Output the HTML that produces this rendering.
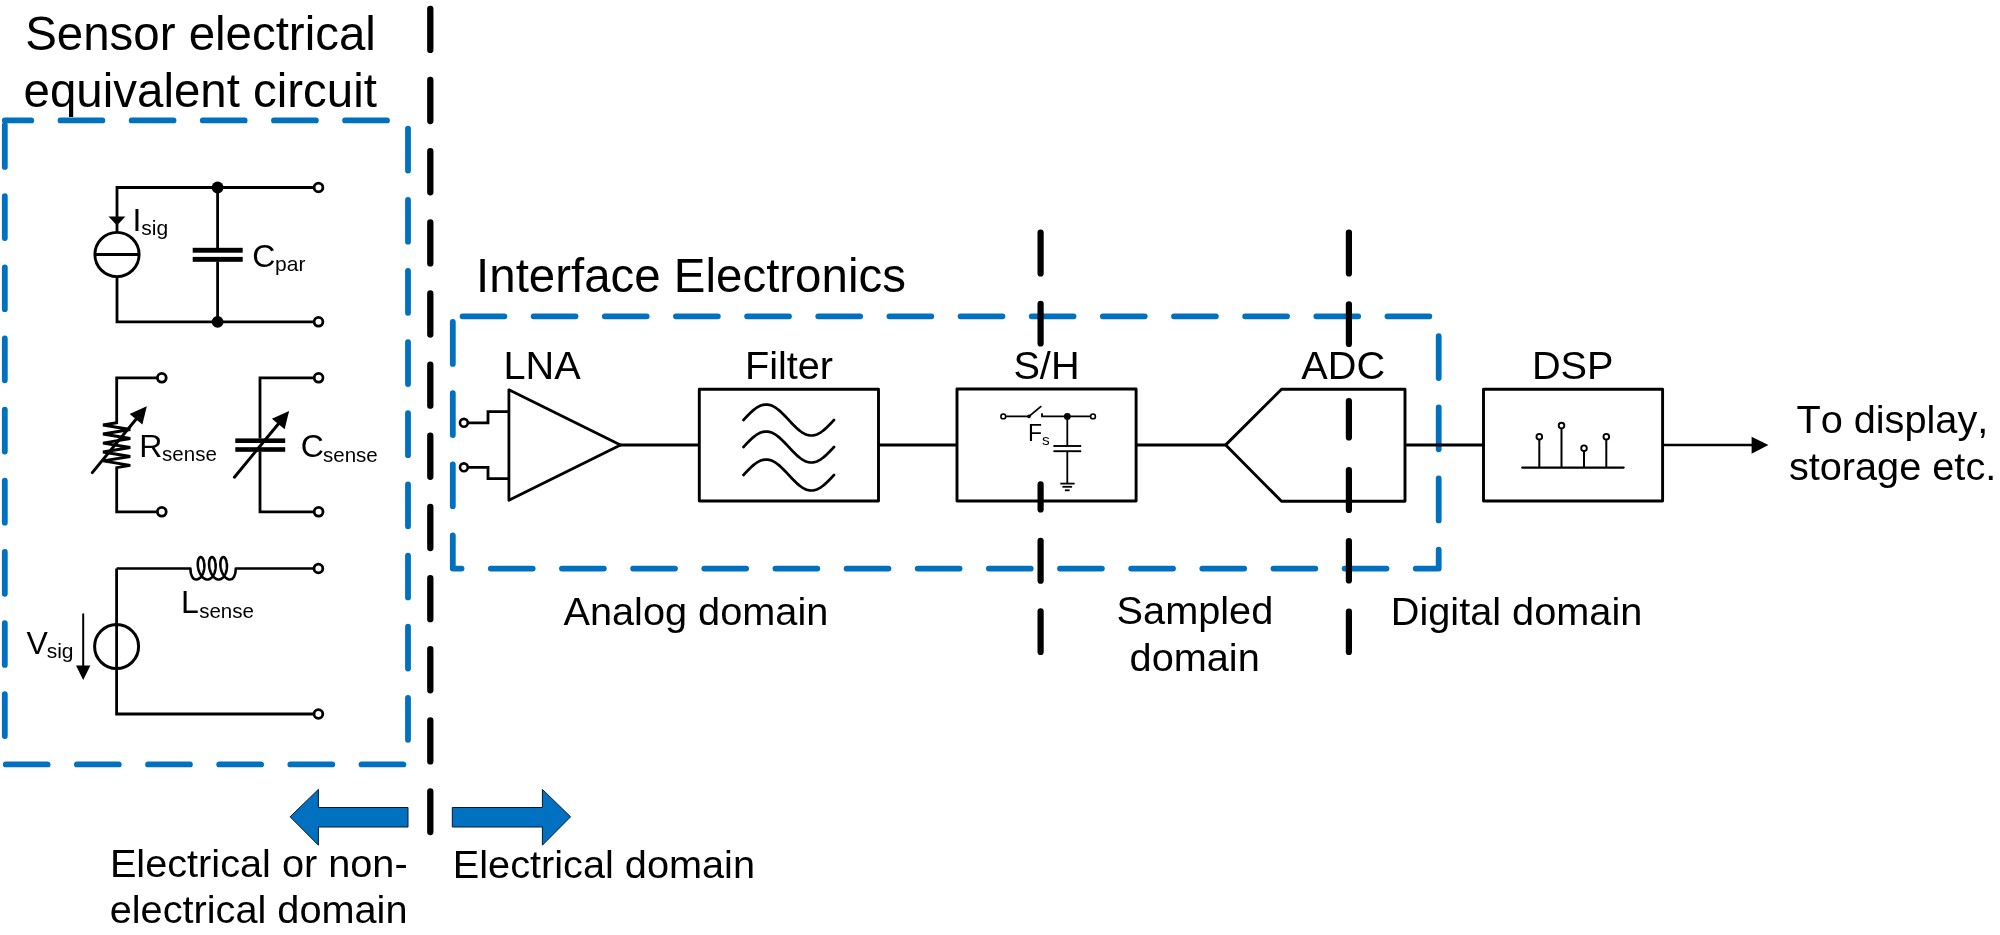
<!DOCTYPE html>
<html><head><meta charset="utf-8"><style>
html,body{margin:0;padding:0;background:#fff;}
svg{display:block;}
</style></head><body>
<svg width="2000" height="935" viewBox="0 0 2000 935">
<rect width="2000" height="935" fill="#fff"/>
<rect x="4.8" y="120.4" width="403.2" height="644" fill="none" stroke="#0070C0" stroke-width="5.8" stroke-dasharray="41.9 29.25" stroke-dashoffset="15.45" stroke-linejoin="round" stroke-linecap="round"/>
<rect x="452.8" y="316.3" width="985.9" height="252.3" fill="none" stroke="#0070C0" stroke-width="5.8" stroke-dasharray="41.9 29.25" stroke-dashoffset="61.45" stroke-linejoin="round" stroke-linecap="round"/>
<line x1="430.3" y1="8.85" x2="430.3" y2="832" stroke="#000" stroke-width="6.3" stroke-dasharray="41.1 30.05" stroke-linecap="round"/>
<path d="M318.5 187.5 H117 V232.7 M117 276.3 V321.8 H318.5" fill="none" stroke="#000" stroke-width="2.8"/>
<circle cx="117" cy="254.5" r="22.1" fill="none" stroke="#000" stroke-width="2.9"/>
<line x1="95.2" y1="254.4" x2="138.8" y2="254.4" stroke="#000" stroke-width="3"/>
<polygon points="108.5,216.6 125.4,216.6 117,225.5" fill="#000"/>
<path d="M217.6 187.5 V248 M217.6 261.5 V321.8" fill="none" stroke="#000" stroke-width="2.8"/>
<rect x="192.7" y="247.8" width="50" height="4.9" fill="#000"/>
<rect x="192.7" y="256.9" width="50" height="4.9" fill="#000"/>
<circle cx="217.6" cy="187.5" r="5.9" fill="#000"/><circle cx="217.6" cy="321.8" r="5.9" fill="#000"/>
<circle cx="318.5" cy="187.5" r="4.4" fill="#fff" stroke="#000" stroke-width="2.8"/>
<circle cx="318.5" cy="321.8" r="4.4" fill="#fff" stroke="#000" stroke-width="2.8"/>
<path d="M161.8 377.8 L116.7 377.8 L116.7 422.7 L103 425 L130.3 429.5 L103 434 L130.3 438.5 L103 443.2 L130.3 447.5 L103 452 L130.3 456.5 L103 460.9 L130.3 465.4 L116.7 467.6 L116.7 511.8 L161.8 511.8" fill="none" stroke="#000" stroke-width="2.8" stroke-linejoin="miter"/>
<line x1="92.3" y1="472.6" x2="137.28" y2="417.79" stroke="#000" stroke-width="3" stroke-linecap="round"/>
<polygon points="146.8,406.2 142.39,424.57 129.64,414.11" fill="#000"/>
<circle cx="161.8" cy="377.8" r="4.4" fill="#fff" stroke="#000" stroke-width="2.8"/>
<circle cx="161.8" cy="511.8" r="4.4" fill="#fff" stroke="#000" stroke-width="2.8"/>
<path d="M318.6 377.8 H260 V438.6 M260 451.5 V511.8 H318.6" fill="none" stroke="#000" stroke-width="2.8"/>
<rect x="235.3" y="438.4" width="49.9" height="4.6" fill="#000"/>
<rect x="235.3" y="447.2" width="49.9" height="4.6" fill="#000"/>
<line x1="234.4" y1="477.2" x2="279.55" y2="422.47" stroke="#000" stroke-width="3" stroke-linecap="round"/>
<polygon points="289.1,410.9 284.64,429.26 271.92,418.76" fill="#000"/>
<circle cx="318.6" cy="377.8" r="4.4" fill="#fff" stroke="#000" stroke-width="2.8"/>
<circle cx="318.6" cy="511.8" r="4.4" fill="#fff" stroke="#000" stroke-width="2.8"/>
<path d="M116.6 568.5 L190.4 568.5 C190.4 575.5 192.90 579.50 196.10 579.50 L196.34 579.49 L196.58 579.48 L196.81 579.45 L197.05 579.41 L197.28 579.36 L197.52 579.30 L197.75 579.23 L197.98 579.15 L198.21 579.06 L198.43 578.95 L198.66 578.84 L198.88 578.71 L199.09 578.58 L199.31 578.43 L199.52 578.28 L199.73 578.11 L199.94 577.94 L200.14 577.76 L200.34 577.56 L200.54 577.36 L200.73 577.15 L200.92 576.93 L201.10 576.70 L201.28 576.46 L201.46 576.22 L201.63 575.97 L201.80 575.71 L201.96 575.44 L202.12 575.16 L202.27 574.88 L202.42 574.60 L202.56 574.30 L202.70 574.00 L202.83 573.70 L202.96 573.38 L203.08 573.07 L203.20 572.75 L203.31 572.42 L203.41 572.09 L203.51 571.76 L203.61 571.42 L203.70 571.09 L203.78 570.74 L203.86 570.40 L203.93 570.05 L203.99 569.70 L204.05 569.35 L204.11 569.00 L204.16 568.65 L204.20 568.30 L204.24 567.95 L204.27 567.60 L204.29 567.25 L204.31 566.90 L204.33 566.55 L204.34 566.20 L204.34 565.86 L204.34 565.51 L204.33 565.18 L204.32 564.84 L204.30 564.51 L204.28 564.18 L204.25 563.85 L204.22 563.53 L204.18 563.22 L204.13 562.90 L204.09 562.60 L204.03 562.30 L203.98 562.00 L203.91 561.72 L203.85 561.44 L203.78 561.16 L203.70 560.89 L203.62 560.63 L203.54 560.38 L203.46 560.14 L203.37 559.90 L203.27 559.67 L203.18 559.45 L203.08 559.24 L202.98 559.04 L202.87 558.84 L202.77 558.66 L202.66 558.49 L202.54 558.32 L202.43 558.17 L202.31 558.02 L202.19 557.89 L202.07 557.76 L201.95 557.65 L201.83 557.54 L201.71 557.45 L201.58 557.37 L201.46 557.30 L201.33 557.24 L201.21 557.19 L201.08 557.15 L200.95 557.12 L200.83 557.11 L200.70 557.10 L200.57 557.11 L200.45 557.12 L200.33 557.15 L200.20 557.19 L200.08 557.24 L199.96 557.30 L199.84 557.37 L199.73 557.45 L199.61 557.54 L199.50 557.65 L199.39 557.76 L199.28 557.89 L199.17 558.02 L199.07 558.17 L198.97 558.32 L198.87 558.49 L198.78 558.66 L198.69 558.84 L198.60 559.04 L198.52 559.24 L198.44 559.45 L198.37 559.67 L198.30 559.90 L198.23 560.14 L198.17 560.38 L198.11 560.63 L198.05 560.89 L198.00 561.16 L197.96 561.44 L197.92 561.72 L197.88 562.00 L197.85 562.30 L197.83 562.60 L197.81 562.90 L197.80 563.22 L197.79 563.53 L197.78 563.85 L197.79 564.18 L197.79 564.51 L197.81 564.84 L197.83 565.18 L197.85 565.51 L197.88 565.86 L197.92 566.20 L197.96 566.55 L198.00 566.90 L198.06 567.25 L198.12 567.60 L198.18 567.95 L198.25 568.30 L198.33 568.65 L198.41 569.00 L198.49 569.35 L198.59 569.70 L198.69 570.05 L198.79 570.40 L198.90 570.74 L199.01 571.09 L199.14 571.42 L199.26 571.76 L199.39 572.09 L199.53 572.42 L199.67 572.75 L199.82 573.07 L199.97 573.38 L200.12 573.70 L200.29 574.00 L200.45 574.30 L200.62 574.60 L200.80 574.88 L200.98 575.16 L201.16 575.44 L201.35 575.71 L201.54 575.97 L201.73 576.22 L201.93 576.46 L202.13 576.70 L202.34 576.93 L202.55 577.15 L202.76 577.36 L202.98 577.56 L203.19 577.76 L203.41 577.94 L203.64 578.11 L203.86 578.28 L204.09 578.43 L204.32 578.58 L204.55 578.71 L204.78 578.84 L205.02 578.95 L205.25 579.06 L205.49 579.15 L205.73 579.23 L205.96 579.30 L206.20 579.36 L206.44 579.41 L206.68 579.45 L206.92 579.48 L207.16 579.49 L207.40 579.50 L207.64 579.49 L207.88 579.48 L208.11 579.45 L208.35 579.41 L208.58 579.36 L208.82 579.30 L209.05 579.23 L209.28 579.15 L209.51 579.06 L209.73 578.95 L209.96 578.84 L210.18 578.71 L210.39 578.58 L210.61 578.43 L210.82 578.28 L211.03 578.11 L211.24 577.94 L211.44 577.76 L211.64 577.56 L211.84 577.36 L212.03 577.15 L212.22 576.93 L212.40 576.70 L212.58 576.46 L212.76 576.22 L212.93 575.97 L213.10 575.71 L213.26 575.44 L213.42 575.16 L213.57 574.88 L213.72 574.60 L213.86 574.30 L214.00 574.00 L214.13 573.70 L214.26 573.38 L214.38 573.07 L214.50 572.75 L214.61 572.42 L214.71 572.09 L214.81 571.76 L214.91 571.42 L215.00 571.09 L215.08 570.74 L215.16 570.40 L215.23 570.05 L215.29 569.70 L215.35 569.35 L215.41 569.00 L215.46 568.65 L215.50 568.30 L215.54 567.95 L215.57 567.60 L215.59 567.25 L215.61 566.90 L215.63 566.55 L215.64 566.20 L215.64 565.86 L215.64 565.51 L215.63 565.18 L215.62 564.84 L215.60 564.51 L215.58 564.18 L215.55 563.85 L215.52 563.53 L215.48 563.22 L215.43 562.90 L215.39 562.60 L215.33 562.30 L215.28 562.00 L215.21 561.72 L215.15 561.44 L215.08 561.16 L215.00 560.89 L214.92 560.63 L214.84 560.38 L214.76 560.14 L214.67 559.90 L214.57 559.67 L214.48 559.45 L214.38 559.24 L214.28 559.04 L214.17 558.84 L214.07 558.66 L213.96 558.49 L213.84 558.32 L213.73 558.17 L213.61 558.02 L213.49 557.89 L213.37 557.76 L213.25 557.65 L213.13 557.54 L213.01 557.45 L212.88 557.37 L212.76 557.30 L212.63 557.24 L212.51 557.19 L212.38 557.15 L212.25 557.12 L212.13 557.11 L212.00 557.10 L211.87 557.11 L211.75 557.12 L211.63 557.15 L211.50 557.19 L211.38 557.24 L211.26 557.30 L211.14 557.37 L211.03 557.45 L210.91 557.54 L210.80 557.65 L210.69 557.76 L210.58 557.89 L210.47 558.02 L210.37 558.17 L210.27 558.32 L210.17 558.49 L210.08 558.66 L209.99 558.84 L209.90 559.04 L209.82 559.24 L209.74 559.45 L209.67 559.67 L209.60 559.90 L209.53 560.14 L209.47 560.38 L209.41 560.63 L209.35 560.89 L209.30 561.16 L209.26 561.44 L209.22 561.72 L209.18 562.00 L209.15 562.30 L209.13 562.60 L209.11 562.90 L209.10 563.22 L209.09 563.53 L209.08 563.85 L209.09 564.18 L209.09 564.51 L209.11 564.84 L209.13 565.18 L209.15 565.51 L209.18 565.86 L209.22 566.20 L209.26 566.55 L209.30 566.90 L209.36 567.25 L209.42 567.60 L209.48 567.95 L209.55 568.30 L209.63 568.65 L209.71 569.00 L209.79 569.35 L209.89 569.70 L209.99 570.05 L210.09 570.40 L210.20 570.74 L210.31 571.09 L210.44 571.42 L210.56 571.76 L210.69 572.09 L210.83 572.42 L210.97 572.75 L211.12 573.07 L211.27 573.38 L211.42 573.70 L211.59 574.00 L211.75 574.30 L211.92 574.60 L212.10 574.88 L212.28 575.16 L212.46 575.44 L212.65 575.71 L212.84 575.97 L213.03 576.22 L213.23 576.46 L213.43 576.70 L213.64 576.93 L213.85 577.15 L214.06 577.36 L214.28 577.56 L214.49 577.76 L214.71 577.94 L214.94 578.11 L215.16 578.28 L215.39 578.43 L215.62 578.58 L215.85 578.71 L216.08 578.84 L216.32 578.95 L216.55 579.06 L216.79 579.15 L217.03 579.23 L217.26 579.30 L217.50 579.36 L217.74 579.41 L217.98 579.45 L218.22 579.48 L218.46 579.49 L218.70 579.50 L218.94 579.49 L219.18 579.48 L219.41 579.45 L219.65 579.41 L219.88 579.36 L220.12 579.30 L220.35 579.23 L220.58 579.15 L220.81 579.06 L221.03 578.95 L221.26 578.84 L221.48 578.71 L221.69 578.58 L221.91 578.43 L222.12 578.28 L222.33 578.11 L222.54 577.94 L222.74 577.76 L222.94 577.56 L223.14 577.36 L223.33 577.15 L223.52 576.93 L223.70 576.70 L223.88 576.46 L224.06 576.22 L224.23 575.97 L224.40 575.71 L224.56 575.44 L224.72 575.16 L224.87 574.88 L225.02 574.60 L225.16 574.30 L225.30 574.00 L225.43 573.70 L225.56 573.38 L225.68 573.07 L225.80 572.75 L225.91 572.42 L226.01 572.09 L226.11 571.76 L226.21 571.42 L226.30 571.09 L226.38 570.74 L226.46 570.40 L226.53 570.05 L226.59 569.70 L226.65 569.35 L226.71 569.00 L226.76 568.65 L226.80 568.30 L226.84 567.95 L226.87 567.60 L226.89 567.25 L226.91 566.90 L226.93 566.55 L226.94 566.20 L226.94 565.86 L226.94 565.51 L226.93 565.18 L226.92 564.84 L226.90 564.51 L226.88 564.18 L226.85 563.85 L226.82 563.53 L226.78 563.22 L226.73 562.90 L226.69 562.60 L226.63 562.30 L226.58 562.00 L226.51 561.72 L226.45 561.44 L226.38 561.16 L226.30 560.89 L226.22 560.63 L226.14 560.38 L226.06 560.14 L225.97 559.90 L225.87 559.67 L225.78 559.45 L225.68 559.24 L225.58 559.04 L225.47 558.84 L225.37 558.66 L225.26 558.49 L225.14 558.32 L225.03 558.17 L224.91 558.02 L224.79 557.89 L224.67 557.76 L224.55 557.65 L224.43 557.54 L224.31 557.45 L224.18 557.37 L224.06 557.30 L223.93 557.24 L223.81 557.19 L223.68 557.15 L223.55 557.12 L223.43 557.11 L223.30 557.10 L223.17 557.11 L223.05 557.12 L222.93 557.15 L222.80 557.19 L222.68 557.24 L222.56 557.30 L222.44 557.37 L222.33 557.45 L222.21 557.54 L222.10 557.65 L221.99 557.76 L221.88 557.89 L221.77 558.02 L221.67 558.17 L221.57 558.32 L221.47 558.49 L221.38 558.66 L221.29 558.84 L221.20 559.04 L221.12 559.24 L221.04 559.45 L220.97 559.67 L220.90 559.90 L220.83 560.14 L220.77 560.38 L220.71 560.63 L220.65 560.89 L220.60 561.16 L220.56 561.44 L220.52 561.72 L220.48 562.00 L220.45 562.30 L220.43 562.60 L220.41 562.90 L220.40 563.22 L220.39 563.53 L220.38 563.85 L220.39 564.18 L220.39 564.51 L220.41 564.84 L220.43 565.18 L220.45 565.51 L220.48 565.86 L220.52 566.20 L220.56 566.55 L220.60 566.90 L220.66 567.25 L220.72 567.60 L220.78 567.95 L220.85 568.30 L220.93 568.65 L221.01 569.00 L221.09 569.35 L221.19 569.70 L221.29 570.05 L221.39 570.40 L221.50 570.74 L221.61 571.09 L221.74 571.42 L221.86 571.76 L221.99 572.09 L222.13 572.42 L222.27 572.75 L222.42 573.07 L222.57 573.38 L222.72 573.70 L222.89 574.00 L223.05 574.30 L223.22 574.60 L223.40 574.88 L223.58 575.16 L223.76 575.44 L223.95 575.71 L224.14 575.97 L224.33 576.22 L224.53 576.46 L224.73 576.70 L224.94 576.93 L225.15 577.15 L225.36 577.36 L225.58 577.56 L225.79 577.76 L226.01 577.94 L226.24 578.11 L226.46 578.28 L226.69 578.43 L226.92 578.58 L227.15 578.71 L227.38 578.84 L227.62 578.95 L227.85 579.06 L228.09 579.15 L228.33 579.23 L228.56 579.30 L228.80 579.36 L229.04 579.41 L229.28 579.45 L229.52 579.48 L229.76 579.49 L230.00 579.50 C233.20 579.50 235.8 575.5 235.8 568.5 L318.4 568.5" fill="none" stroke="#000" stroke-width="2.6" stroke-linejoin="round"/>
<path d="M116.6 568.5 V714 H318.4" fill="none" stroke="#000" stroke-width="2.8"/>
<circle cx="116.6" cy="646.6" r="22" fill="none" stroke="#000" stroke-width="3"/>
<line x1="83.2" y1="613.5" x2="83.2" y2="667" stroke="#000" stroke-width="2"/>
<polygon points="76,665.5 90.4,665.5 83.2,680" fill="#000"/>
<circle cx="318.4" cy="568.5" r="4.4" fill="#fff" stroke="#000" stroke-width="2.8"/>
<circle cx="318.4" cy="714" r="4.4" fill="#fff" stroke="#000" stroke-width="2.8"/>
<polygon points="508.9,389.8 620.5,445 508.9,500.2" fill="#fff" stroke="#000" stroke-width="2.8" stroke-linejoin="round"/>
<path d="M463.9 422.8 H488 V411.7 H508.8 M463.9 467.3 H488 V478.7 H508.8" fill="none" stroke="#000" stroke-width="2.8"/>
<circle cx="463.9" cy="422.8" r="3.9" fill="#fff" stroke="#000" stroke-width="2.6"/>
<circle cx="463.9" cy="467.3" r="3.9" fill="#fff" stroke="#000" stroke-width="2.6"/>
<line x1="619.5" y1="445" x2="699.3" y2="445" stroke="#000" stroke-width="2.8"/>
<rect x="699.3" y="389.3" width="179.2" height="111.7" fill="#fff" stroke="#000" stroke-width="2.9" stroke-linejoin="round"/>
<path d="M743.50 420.00 L745.01 418.38 L746.52 416.78 L748.02 415.21 L749.53 413.70 L751.04 412.25 L752.55 410.89 L754.06 409.63 L755.57 408.48 L757.08 407.46 L758.58 406.58 L760.09 405.84 L761.60 405.26 L763.11 404.84 L764.62 404.58 L766.12 404.50 L767.63 404.58 L769.14 404.84 L770.65 405.26 L772.16 405.84 L773.67 406.58 L775.17 407.46 L776.68 408.48 L778.19 409.63 L779.70 410.89 L781.21 412.25 L782.72 413.70 L784.23 415.21 L785.73 416.78 L787.24 418.38 L788.75 420.00 L790.26 421.62 L791.77 423.22 L793.27 424.79 L794.78 426.30 L796.29 427.75 L797.80 429.11 L799.31 430.37 L800.82 431.52 L802.33 432.54 L803.83 433.42 L805.34 434.16 L806.85 434.74 L808.36 435.16 L809.87 435.42 L811.38 435.50 L812.88 435.42 L814.39 435.16 L815.90 434.74 L817.41 434.16 L818.92 433.42 L820.42 432.54 L821.93 431.52 L823.44 430.37 L824.95 429.11 L826.46 427.75 L827.97 426.30 L829.48 424.79 L830.98 423.22 L832.49 421.62 L834.00 420.00" fill="none" stroke="#000" stroke-width="2.7" stroke-linecap="round"/>
<path d="M743.50 447.00 L745.01 445.38 L746.52 443.78 L748.02 442.21 L749.53 440.70 L751.04 439.25 L752.55 437.89 L754.06 436.63 L755.57 435.48 L757.08 434.46 L758.58 433.58 L760.09 432.84 L761.60 432.26 L763.11 431.84 L764.62 431.58 L766.12 431.50 L767.63 431.58 L769.14 431.84 L770.65 432.26 L772.16 432.84 L773.67 433.58 L775.17 434.46 L776.68 435.48 L778.19 436.63 L779.70 437.89 L781.21 439.25 L782.72 440.70 L784.23 442.21 L785.73 443.78 L787.24 445.38 L788.75 447.00 L790.26 448.62 L791.77 450.22 L793.27 451.79 L794.78 453.30 L796.29 454.75 L797.80 456.11 L799.31 457.37 L800.82 458.52 L802.33 459.54 L803.83 460.42 L805.34 461.16 L806.85 461.74 L808.36 462.16 L809.87 462.42 L811.38 462.50 L812.88 462.42 L814.39 462.16 L815.90 461.74 L817.41 461.16 L818.92 460.42 L820.42 459.54 L821.93 458.52 L823.44 457.37 L824.95 456.11 L826.46 454.75 L827.97 453.30 L829.48 451.79 L830.98 450.22 L832.49 448.62 L834.00 447.00" fill="none" stroke="#000" stroke-width="2.7" stroke-linecap="round"/>
<path d="M743.50 475.00 L745.01 473.38 L746.52 471.78 L748.02 470.21 L749.53 468.70 L751.04 467.25 L752.55 465.89 L754.06 464.63 L755.57 463.48 L757.08 462.46 L758.58 461.58 L760.09 460.84 L761.60 460.26 L763.11 459.84 L764.62 459.58 L766.12 459.50 L767.63 459.58 L769.14 459.84 L770.65 460.26 L772.16 460.84 L773.67 461.58 L775.17 462.46 L776.68 463.48 L778.19 464.63 L779.70 465.89 L781.21 467.25 L782.72 468.70 L784.23 470.21 L785.73 471.78 L787.24 473.38 L788.75 475.00 L790.26 476.62 L791.77 478.22 L793.27 479.79 L794.78 481.30 L796.29 482.75 L797.80 484.11 L799.31 485.37 L800.82 486.52 L802.33 487.54 L803.83 488.42 L805.34 489.16 L806.85 489.74 L808.36 490.16 L809.87 490.42 L811.38 490.50 L812.88 490.42 L814.39 490.16 L815.90 489.74 L817.41 489.16 L818.92 488.42 L820.42 487.54 L821.93 486.52 L823.44 485.37 L824.95 484.11 L826.46 482.75 L827.97 481.30 L829.48 479.79 L830.98 478.22 L832.49 476.62 L834.00 475.00" fill="none" stroke="#000" stroke-width="2.7" stroke-linecap="round"/>
<line x1="878.5" y1="445" x2="957" y2="445" stroke="#000" stroke-width="2.8"/>
<line x1="1040.6" y1="232.5" x2="1040.6" y2="273.4" stroke="#000" stroke-width="6.2" stroke-linecap="round"/>
<line x1="1040.6" y1="303.8" x2="1040.6" y2="343.5" stroke="#000" stroke-width="6.2" stroke-linecap="round"/>
<line x1="1348.9" y1="232.5" x2="1348.9" y2="273.4" stroke="#000" stroke-width="6.2" stroke-linecap="round"/>
<line x1="1348.9" y1="304.3" x2="1348.9" y2="343.9" stroke="#000" stroke-width="6.2" stroke-linecap="round"/>
<rect x="957" y="389" width="179.1" height="112" fill="#fff" stroke="#000" stroke-width="2.9" stroke-linejoin="round"/>
<path d="M1003.3 416.4 H1029 L1041.3 406.1 M1042 413.2 V416.4 H1093 M1067.3 416.4 V446 M1067.3 451.2 V483.6" fill="none" stroke="#000" stroke-width="1.8"/>
<line x1="1053.4" y1="446" x2="1081.2" y2="446" stroke="#000" stroke-width="1.9"/>
<line x1="1053.4" y1="451.2" x2="1081.2" y2="451.2" stroke="#000" stroke-width="1.9"/>
<line x1="1060.3" y1="483.6" x2="1074.6" y2="483.6" stroke="#000" stroke-width="1.8"/>
<line x1="1062.4" y1="486.8" x2="1072.1" y2="486.8" stroke="#000" stroke-width="1.8"/>
<line x1="1064.9" y1="490.3" x2="1069.6" y2="490.3" stroke="#000" stroke-width="1.8"/>
<circle cx="1029" cy="416.4" r="1.8" fill="#000"/><circle cx="1067.3" cy="416.4" r="3.4" fill="#000"/>
<circle cx="1003.3" cy="416.4" r="2.4" fill="#fff" stroke="#000" stroke-width="1.6"/>
<circle cx="1093" cy="416.4" r="2.4" fill="#fff" stroke="#000" stroke-width="1.6"/>
<line x1="1136.1" y1="445" x2="1225.7" y2="445" stroke="#000" stroke-width="2.8"/>
<polygon points="1225.7,444.9 1281.5,389.3 1405,389.3 1405,501.3 1281.5,501.3" fill="#fff" stroke="#000" stroke-width="2.9" stroke-linejoin="round"/>
<line x1="1405" y1="445" x2="1483.5" y2="445" stroke="#000" stroke-width="2.8"/>
<rect x="1483.5" y="389.3" width="179.1" height="111.7" fill="#fff" stroke="#000" stroke-width="2.9" stroke-linejoin="round"/>
<line x1="1522.2" y1="467.6" x2="1623.7" y2="467.6" stroke="#000" stroke-width="2.1" stroke-linecap="round"/>
<line x1="1539.3" y1="436.7" x2="1539.3" y2="467.6" stroke="#000" stroke-width="2.0"/>
<circle cx="1539.3" cy="436.7" r="2.8" fill="#fff" stroke="#000" stroke-width="1.9"/>
<line x1="1561.5" y1="425.6" x2="1561.5" y2="467.6" stroke="#000" stroke-width="2.0"/>
<circle cx="1561.5" cy="425.6" r="2.8" fill="#fff" stroke="#000" stroke-width="1.9"/>
<line x1="1584" y1="448.2" x2="1584" y2="467.6" stroke="#000" stroke-width="2.0"/>
<circle cx="1584" cy="448.2" r="2.8" fill="#fff" stroke="#000" stroke-width="1.9"/>
<line x1="1606.3" y1="436.7" x2="1606.3" y2="467.6" stroke="#000" stroke-width="2.0"/>
<circle cx="1606.3" cy="436.7" r="2.8" fill="#fff" stroke="#000" stroke-width="1.9"/>
<line x1="1662.6" y1="445" x2="1753" y2="445" stroke="#000" stroke-width="2.7"/>
<polygon points="1751.6,436.8 1768.4,445 1751.6,453.7" fill="#000"/>
<line x1="1040.6" y1="484.4" x2="1040.6" y2="509.5" stroke="#000" stroke-width="6.2" stroke-linecap="round"/>
<line x1="1040.6" y1="540.8" x2="1040.6" y2="580.7" stroke="#000" stroke-width="6.2" stroke-linecap="round"/>
<line x1="1040.6" y1="611.3" x2="1040.6" y2="652.0" stroke="#000" stroke-width="6.2" stroke-linecap="round"/>
<line x1="1348.9" y1="401.1" x2="1348.9" y2="437.5" stroke="#000" stroke-width="6.2" stroke-linecap="round"/>
<line x1="1348.9" y1="470.1" x2="1348.9" y2="509.9" stroke="#000" stroke-width="6.2" stroke-linecap="round"/>
<line x1="1348.9" y1="541.1" x2="1348.9" y2="580.5" stroke="#000" stroke-width="6.2" stroke-linecap="round"/>
<line x1="1348.9" y1="611.6" x2="1348.9" y2="652.0" stroke="#000" stroke-width="6.2" stroke-linecap="round"/>
<polygon points="290.1,816.8 318.4,789.4 318.4,807.5 408,807.5 408,827 318.4,827 318.4,845.2" fill="#0070C0" stroke="#0B1A2E" stroke-width="1"/>
<polygon points="570.6,816.8 542.4,789.4 542.4,807.5 452.3,807.5 452.3,827 542.4,827 542.4,845.2" fill="#0070C0" stroke="#0B1A2E" stroke-width="1"/>
<defs><filter id="gs" filterUnits="userSpaceOnUse" x="0" y="0" width="2000" height="935"><feOffset dx="0" dy="0"/></filter></defs><g font-family="Liberation Sans, sans-serif" fill="#000" filter="url(#gs)" style="font-kerning:none"><text x="25.2" y="50.2" font-size="47.45">Sensor electrical</text><text x="23.6" y="106.7" font-size="47.45">equivalent circuit</text><text x="476.1" y="291.5" font-size="47.45">Interface Electronics</text><text x="503.5" y="378.8" font-size="39.7">LNA</text><text x="744.9" y="378.8" font-size="39.7">Filter</text><text x="1013.4" y="378.8" font-size="39.7">S/H</text><text x="1301.35" y="378.6" font-size="39.7">ADC</text><text x="1531.9" y="378.6" font-size="39.7">DSP</text><text x="563.5" y="624.8" font-size="39.7">Analog domain</text><text x="1116.6" y="624.0" font-size="39.7">Sampled</text><text x="1129.6" y="671.2" font-size="39.7">domain</text><text x="1390.8" y="624.8" font-size="39.7">Digital domain</text><text x="1796.4" y="433" font-size="39.7">To display,</text><text x="1788.9" y="480.3" font-size="39.7">storage etc.</text><text x="109.9" y="876.5" font-size="39.7">Electrical or non-</text><text x="109.7" y="923" font-size="39.7">electrical domain</text><text x="452.8" y="877.5" font-size="39.7">Electrical domain</text><text x="132.5" y="230.5" font-size="32">I</text><text x="141.3" y="234.7" font-size="21">sig</text><text x="252.3" y="266.5" font-size="32">C</text><text x="275.1" y="270.9" font-size="21">par</text><text x="139.2" y="457.0" font-size="32">R</text><text x="162.1" y="461.4" font-size="20.5">sense</text><text x="300.7" y="456.6" font-size="32">C</text><text x="323.0" y="461.5" font-size="20.5">sense</text><text x="181.0" y="613.2" font-size="32">L</text><text x="199.2" y="617.8" font-size="20.5">sense</text><text x="26.5" y="654" font-size="32">V</text><text x="46.7" y="657.8" font-size="21">sig</text><text x="1027.9" y="440.5" font-size="23">F</text><text x="1042.0" y="444.8" font-size="15.4">s</text></g>
</svg>
</body></html>
